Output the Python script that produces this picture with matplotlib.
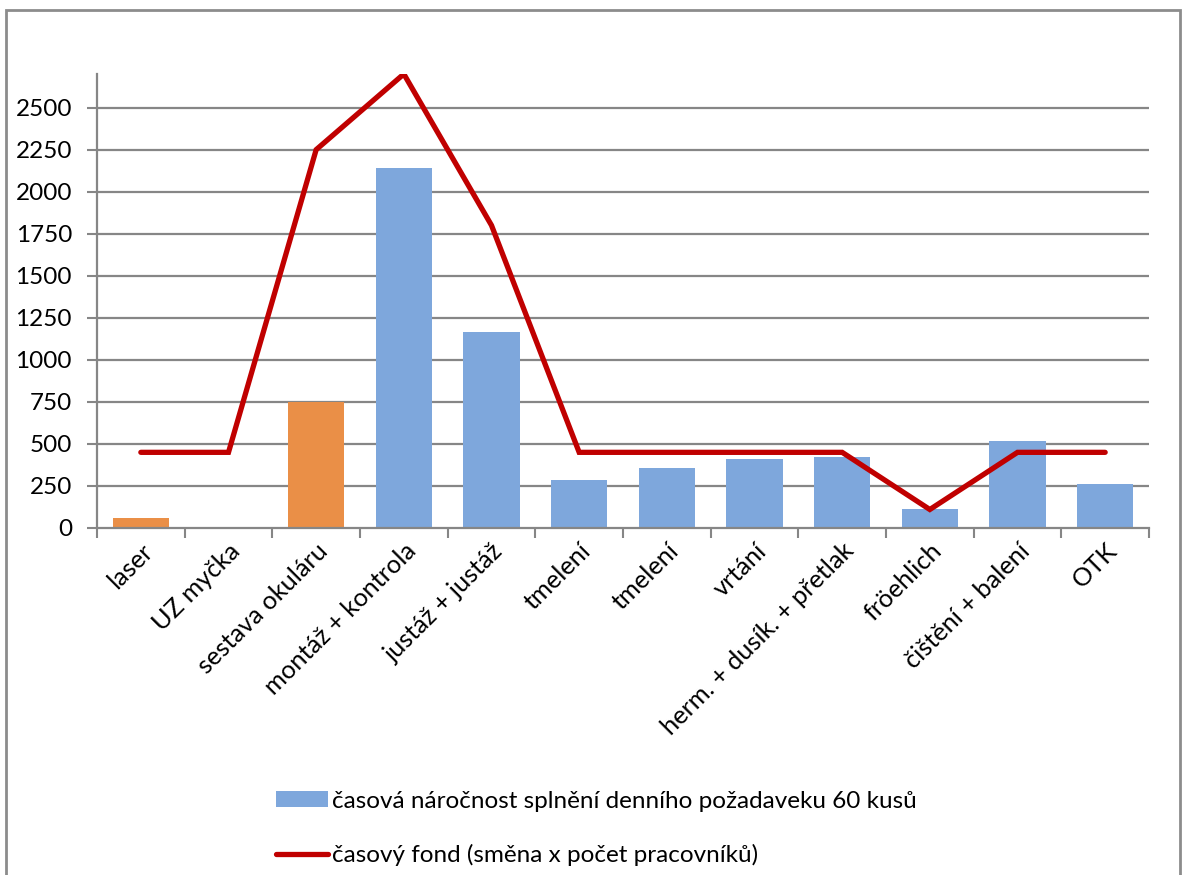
import matplotlib
matplotlib.use("Agg")
import matplotlib.pyplot as plt
from matplotlib.patches import Rectangle, Patch
from matplotlib.lines import Line2D

categories = ["laser", "UZ myčka", "sestava okuláru", "montáž + kontrola", "justáž + justáž",
              "tmelení", "tmelení", "vrtání", "herm. + dusík. + přetlak", "fröehlich",
              "čištění + balení", "OTK"]
demand = [57, 0, 750, 2143, 1163, 288, 355, 413, 423, 115, 516, 264]
fund = [450, 450, 2250, 2700, 1800, 450, 450, 450, 450, 110, 450, 450]
orange_idx = [0, 1, 2]
yticks = [0, 250, 500, 750, 1000, 1250, 1500, 1750, 2000, 2250, 2500]

label_demand = "časová náročnost splnění denního požadaveku 60 kusů"
label_fund = "časový fond (směna x počet pracovníků)"

BLUE = "#7EA7DC"
ORANGE = "#EA8F47"
RED = "#C00000"
GRID = "#868686"

plt.rcParams['font.family'] = ['Lato', 'DejaVu Sans']
FS = 17.5
FS_CAT = 18.3

W, H = 1183, 875
fig = plt.figure(figsize=(W / 100, H / 100), dpi=100)

# figure border
fig.patches.append(Rectangle((6 / W, -0.05), (1180 - 6) / W, 1.05 - 10 / H,
                             transform=fig.transFigure, fill=False,
                             edgecolor="#8C8C8C", linewidth=2))

left, right, top, bottom = 97, 1149, 74, 528
ax = fig.add_axes([left / W, 1 - bottom / H, (right - left) / W, (bottom - top) / H])

x = list(range(len(categories)))
colors = [ORANGE if i in orange_idx else BLUE for i in x]
ax.bar(x, demand, width=0.64, color=colors, zorder=2)
ax.plot(x, fund, color=RED, linewidth=3.8, zorder=3, solid_capstyle='round',
        solid_joinstyle='miter')

ax.set_xlim(-0.5, len(categories) - 0.5)
ax.set_ylim(0, 2700)
ax.set_yticks(yticks)
ax.set_yticklabels([str(v) for v in yticks], fontsize=FS)
for v in yticks[1:]:
    ax.axhline(v, color=GRID, linewidth=1.6, zorder=1)

ax.set_xticks([i - 0.5 for i in range(len(categories) + 1)])
ax.set_xticklabels([])
ax.set_xticks(x, minor=True)
ax.set_xticklabels(categories, minor=True, rotation=45, ha='right',
                   rotation_mode='anchor', fontsize=FS_CAT)
ax.tick_params(axis='x', which='minor', length=0, pad=8)
ax.tick_params(axis='x', which='major', length=7, width=1.5, color=GRID, direction='out')
ax.tick_params(axis='y', length=7, width=1.5, color=GRID, direction='out', pad=11)

for s in ['top', 'right']:
    ax.spines[s].set_visible(False)
for s in ['left', 'bottom']:
    ax.spines[s].set_color(GRID)
    ax.spines[s].set_linewidth(1.6)

handles = [Patch(facecolor=BLUE, edgecolor='none'),
           Line2D([0], [0], color=RED, linewidth=3.8, solid_capstyle='round')]
leg = fig.legend(handles, [label_demand, label_fund], loc='upper left',
                 bbox_to_anchor=(266 / W, 1 - 781 / H), frameon=False, fontsize=FS,
                 handlelength=2.15, handleheight=0.62, handletextpad=0.15,
                 labelspacing=1.33, borderaxespad=0)

fig.savefig("out.png", dpi=100)
